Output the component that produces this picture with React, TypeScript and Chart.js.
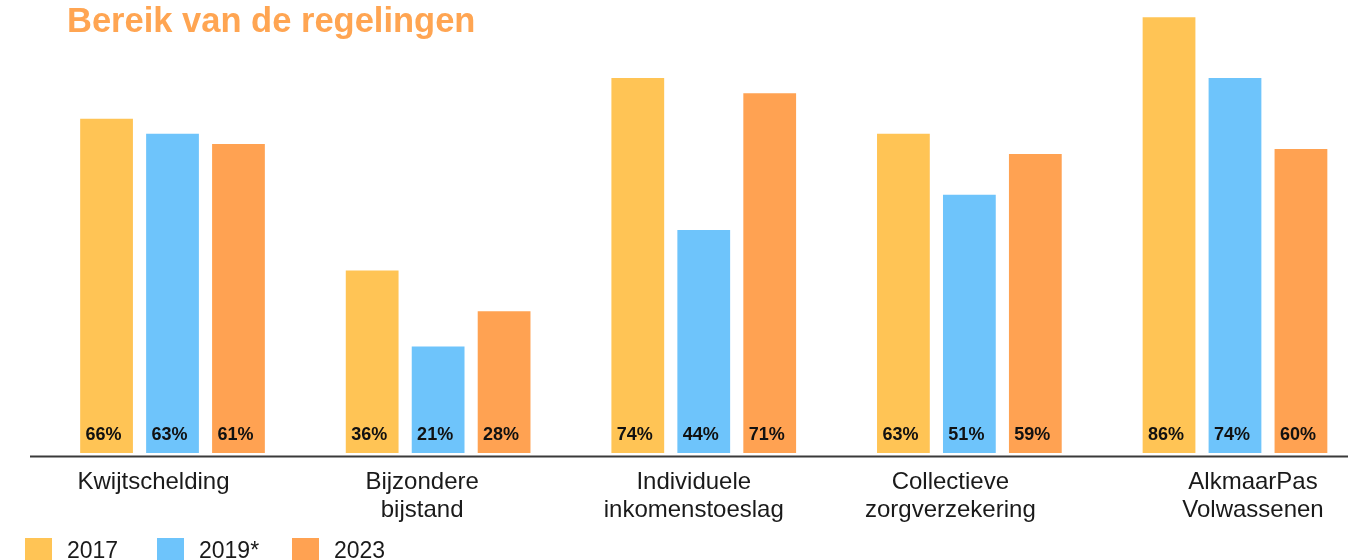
import React, { useEffect, useRef } from "react";
import { Chart, registerables } from "chart.js";

Chart.register(...registerables);

const titleText = "Bereik van de regelingen";
const categories: string[][] = [
  ["Kwijtschelding"],
  ["Bijzondere", "bijstand"],
  ["Individuele", "inkomenstoeslag"],
  ["Collectieve", "zorgverzekering"],
  ["AlkmaarPas", "Volwassenen"],
];
const seriesNames = ["2017", "2019*", "2023"];
const values2017 = [66, 36, 74, 63, 86];
const values2019 = [63, 21, 44, 51, 74];
const values2023 = [61, 28, 71, 59, 60];
const seriesColors = ["#FFC455", "#6EC4FB", "#FFA252"];

const FONT = '"Liberation Sans", Arial, Helvetica, sans-serif';

const decorPlugin = {
  id: "decor",
  afterDatasetsDraw(chart: any) {
    const ctx = chart.ctx as CanvasRenderingContext2D;
    ctx.save();
    // value labels
    ctx.fillStyle = "#111111";
    ctx.font = `bold 18px ${FONT}`;
    ctx.textAlign = "center";
    ctx.textBaseline = "alphabetic";
    chart.data.datasets.forEach((ds: any, di: number) => {
      const meta = chart.getDatasetMeta(di);
      meta.data.forEach((bar: any, i: number) => {
        ctx.fillText(`${ds.data[i]}%`, bar.x - 3, 440);
      });
    });
    // axis line
    ctx.strokeStyle = "#3a3a3a";
    ctx.lineWidth = 2;
    ctx.beginPath();
    ctx.moveTo(30, 456.5);
    ctx.lineTo(1348, 456.5);
    ctx.stroke();
    // category labels
    const xScale = chart.scales.x;
    const labelOffsets = [-19, -16, -10, -19, 18];
    ctx.fillStyle = "#1a1a1a";
    ctx.font = `24px ${FONT}`;
    categories.forEach((lines, i) => {
      const cx = xScale.getPixelForValue(i) + labelOffsets[i];
      lines.forEach((line, li) => {
        ctx.fillText(line, cx, 489 + li * 28);
      });
    });
    // title
    ctx.textAlign = "left";
    ctx.fillStyle = "#FFA552";
    ctx.font = `bold 34.5px ${FONT}`;
    ctx.fillText(titleText, 67, 32);
    // legend
    const boxX = [25, 157, 292];
    ctx.font = `23px ${FONT}`;
    seriesNames.forEach((name, i) => {
      ctx.fillStyle = seriesColors[i];
      ctx.fillRect(boxX[i], 538, 27, 27);
      ctx.fillStyle = "#1a1a1a";
      ctx.fillText(name, boxX[i] + 42, 557.5);
    });
    ctx.restore();
  },
};

export default function App() {
  const canvasRef = useRef<HTMLCanvasElement | null>(null);

  useEffect(() => {
    const canvas = canvasRef.current;
    if (!canvas) return;
    const chart = new Chart(canvas, {
      type: "bar",
      data: {
        labels: categories.map((c) => c.join(" ")),
        datasets: [
          { label: seriesNames[0], data: values2017, backgroundColor: seriesColors[0] },
          { label: seriesNames[1], data: values2019, backgroundColor: seriesColors[1] },
          { label: seriesNames[2], data: values2023, backgroundColor: seriesColors[2] },
        ],
      },
      options: {
        responsive: false,
        animation: false,
        devicePixelRatio: 1,
        layout: { padding: { left: 39.7, right: 2.2, top: 0, bottom: 107 } },
        datasets: {
          bar: { categoryPercentage: 0.745, barPercentage: 0.8 },
        },
        scales: {
          x: { display: false, offset: true },
          y: { display: false, min: 0, max: 89.42 },
        },
        plugins: {
          legend: { display: false },
          title: { display: false },
          tooltip: { enabled: false },
        },
      },
      plugins: [decorPlugin],
    });
    return () => chart.destroy();
  }, []);

  return (
    <div
      style={{
        position: "fixed",
        left: 0,
        top: 0,
        width: 1361,
        height: 560,
        overflow: "hidden",
        background: "#ffffff",
      }}
    >
      <canvas ref={canvasRef} width={1370} height={560} style={{ display: "block", width: 1370, height: 560 }} />
    </div>
  );
}
